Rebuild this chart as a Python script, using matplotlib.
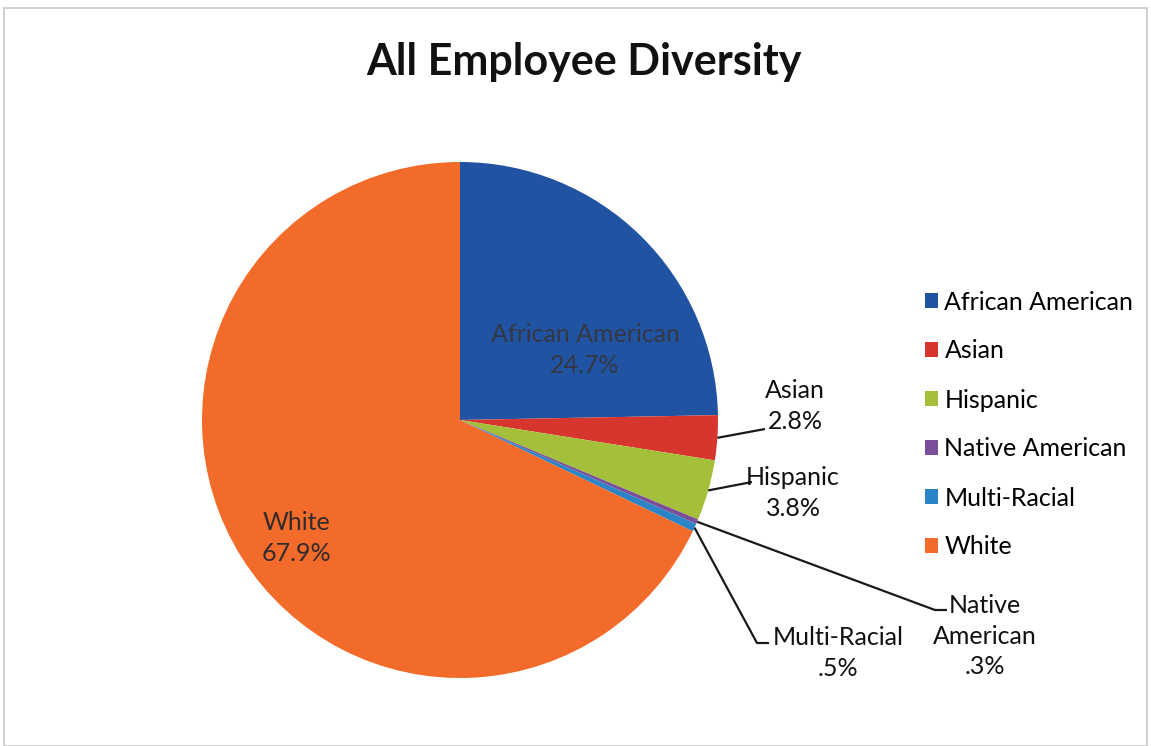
import numpy as np
import matplotlib
matplotlib.use("Agg")
import matplotlib.pyplot as plt
from matplotlib.patches import Rectangle

# data
groups = ["African American", "Asian", "Hispanic", "Native American", "Multi-Racial", "White"]
shares = [24.7, 2.8, 3.8, 0.3, 0.5, 67.9]
pct_text = ["24.7%", "2.8%", "3.8%", ".3%", ".5%", "67.9%"]
colors = ["#2153A3", "#D7362E", "#A4C03A", "#7A4E98", "#2A84C6", "#F26B2B"]

plt.rcParams['font.family'] = ['Lato', 'DejaVu Sans']

W, H = 1151, 746
fig = plt.figure(figsize=(W / 100, H / 100), dpi=100)

# pie centre / radius in pixels (from top-left)
cx, cy, R = 460, 420, 258
half = 300
ax = fig.add_axes([(cx - half) / W, (H - cy - half) / H, 2 * half / W, 2 * half / H])

wedges, _ = ax.pie(shares, colors=colors, startangle=90, counterclock=False,
                   radius=1.0, wedgeprops=dict(linewidth=0))
lim = half / R
ax.set_xlim(-lim, lim)
ax.set_ylim(-lim, lim)
ax.set_aspect("equal")


def px(x, y):
    # pixel position -> data coords of the pie axes
    return (x - cx) / R, (cy - y) / R


def edge_point(i, r=1.0):
    w = wedges[i]
    ang = np.deg2rad((w.theta1 + w.theta2) / 2)
    return r * np.cos(ang), r * np.sin(ang)


fs = 18
ls = 1.42
# inside labels
x, y = px(585, 350)
ax.text(x, y, groups[0] + "\n" + pct_text[0], ha="center", va="center",
        fontsize=fs, color="#333844", linespacing=ls)
x, y = px(296, 538)
ax.text(x, y, groups[5] + "\n" + pct_text[5], ha="center", va="center",
        fontsize=fs, color="#332b2b", linespacing=ls)

# outside labels with leader lines: (elbow px, text centre px, label)
outside = [
    (1, (765, 429), (795, 406), "Asian\n2.8%"),
    (2, (752, 482), (793, 493), "Hispanic\n3.8%"),
    (3, (935, 610), (985, 636), "Native\nAmerican\n.3%"),
    (4, (757, 643), (838, 653), "Multi-Racial\n.5%"),
]
for i, elbow, tpos, label in outside:
    ex, ey = edge_point(i)
    bx, by = px(*elbow)
    pts_x = [ex, bx]
    pts_y = [ey, by]
    if i in (3, 4):
        hx, hy = px(elbow[0] + 12, elbow[1])
        pts_x.append(hx)
        pts_y.append(hy)
    ax.plot(pts_x, pts_y, color="#1a1a1a", lw=1.6, solid_capstyle="butt",
            clip_on=False)
    tx, ty = px(*tpos)
    ax.text(tx, ty, label, ha="center", va="center", fontsize=fs,
            color="#111111", linespacing=ls, clip_on=False)

# title
fig.text(584 / W, 1 - 62 / H, "All Employee Diversity", ha="center", va="center",
         fontsize=31, fontweight="bold", color="#111111")

# legend
leg = fig.legend(wedges, groups, loc="upper left",
                 bbox_to_anchor=(912 / W, 1 - 278 / H),
                 frameon=False, fontsize=fs, handlelength=0.55, handleheight=0.55,
                 handletextpad=0.25, labelspacing=1.04, borderpad=0)

# faint frame around the chart area
fig.patches.append(Rectangle((4 / W, 0), (W - 8) / W, 1 - 8 / H,
                             transform=fig.transFigure, fill=False,
                             edgecolor="#c8c8c8", lw=1.2))

fig.savefig("out.png", dpi=100)
